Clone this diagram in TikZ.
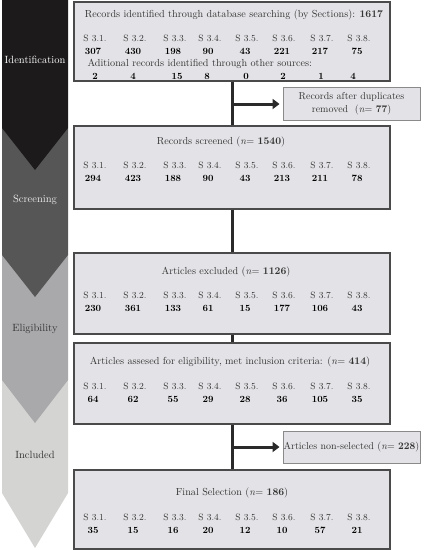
\documentclass[tikz,border=0pt]{standalone}
\usetikzlibrary{arrows.meta, positioning}
\definecolor{stageblack}{HTML}{1C1A1B}
\definecolor{stagedark}{HTML}{565656}
\definecolor{stagemid}{HTML}{A9A9AB}
\definecolor{stagelight}{HTML}{D4D4D2}
\definecolor{boxfill}{HTML}{E3E3E7}
\definecolor{boxline}{HTML}{4A4A4A}
\definecolor{sideline}{HTML}{8A8A8A}
\definecolor{trunk}{HTML}{2A2A2A}
\definecolor{labeltext}{HTML}{333333}
\tikzset{
  flowbox/.style={draw=boxline, line width=1.2pt, fill=boxfill, inner sep=0pt,
    minimum width=316pt},
  sidebox/.style={draw=sideline, line width=0.9pt, fill=boxfill, align=center,
    inner sep=0pt, minimum width=137pt, font=\fontsize{10}{13}\selectfont, text=labeltext},
  flowline/.style={line width=3pt, draw=trunk},
  flowarrow/.style={-{Triangle[length=7pt, width=10pt]}, line width=3pt, draw=trunk,
    shorten >=3pt},
  stagelabel/.style={font=\fontsize{10.5}{12}\selectfont},
  titletext/.style={font=\fontsize{10.2}{12}\selectfont, anchor=base, text=labeltext},
  sectext/.style={font=\fontsize{9.2}{10}\selectfont, anchor=base, text=labeltext},
  numtext/.style={font=\fontsize{9.5}{10}\selectfont\bfseries, anchor=base},
}
% one row of section labels with the counts below them
\newcommand{\secrow}[3]{%
  \foreach \cx [count=\ci] in {95,135,175,210,247,284,322,359}
    \node[sectext] (#1-s\ci) at (\cx,#2) {S 3.\ci.};
  \foreach \nv [count=\ci] in {#3}
    \node[numtext] (#1-n\ci) at ([xshift=-2pt,yshift=-12.5pt]#1-s\ci.base) {\nv};
}

\begin{document}
\begin{tikzpicture}[x=1pt, y=-1pt]
  \useasboundingbox (0,0) rectangle (432,550);

  % stage arrows on the left
  \fill[stagelight] (2,380) -- (68,380) -- (68,493) -- (35,548) -- (2,493) -- cycle;
  \fill[stagemid] (2,255) -- (68,255) -- (68,380) -- (35,423) -- (2,380) -- cycle;
  \fill[stagedark] (2,128) -- (68,128) -- (68,255) -- (35,297) -- (2,255) -- cycle;
  \fill[stageblack] (2,0) -- (68,0) -- (68,128) -- (35,170) -- (2,128) -- cycle;
  \node[stagelabel, text=white] (lblident) at (35,60) {Identification};
  \node[stagelabel, text=white!92!black] (lblscreen) at (35,200) {Screening};
  \node[stagelabel, text=labeltext] (lblelig) at (35,329) {Eligibility};
  \node[stagelabel, text=labeltext] (lblincl) at (35,455) {Included};

  % main boxes
  \node[flowbox, minimum height=79pt] (ident) at (232,41.5) {};
  \node[flowbox, minimum height=83pt] (screen) at (232,167.5) {};
  \node[flowbox, minimum height=81pt] (excl) at (232,293.5) {};
  \node[flowbox, minimum height=81pt] (assess) at (232,383.5) {};
  \node[flowbox, minimum height=79pt] (final) at (232,509.5) {};

  % side boxes
  \node[sidebox, minimum height=33pt] (dup) at (351.5,104) {Records after duplicates\\removed\ \ (\textit{n}= \textbf{77})};
  \node[sidebox, minimum height=32pt] (nonsel) at (351.5,447) {Articles non-selected (\textit{n}= \textbf{228})};

  % connectors
  \coordinate (br1) at (232,104);
  \coordinate (br2) at (232,447);
  \draw[flowline] (ident.south) -- (screen.north);
  \draw[flowline] (screen.south) -- (excl.north);
  \draw[flowline] (excl.south) -- (assess.north);
  \draw[flowline] (assess.south) -- (final.north);
  \draw[flowarrow] (br1) -- (dup.west);
  \draw[flowarrow] (br2) -- (nonsel.west);

  % box contents
  \node[titletext] (identtitle) at (234,17.5) {Records identified through database searching (by Sections): \textbf{1617}};
  \secrow{id}{41.5}{307,430,198,90,43,221,217,75}
  \node[titletext, anchor=base west] (addtitle) at (84,66.5) {Aditional records identified through other sources:};
  \foreach \nv/\nx [count=\ci] in {2/95,4/133,15/177,8/207,0/246,2/283,1/321,4/353}
    \node[numtext] (add-n\ci) at (\nx,79.5) {\nv};

  \node[titletext] (screentitle) at (221,144.5) {Records screened (\textit{n}= \textbf{1540})};
  \secrow{sc}{168.5}{294,423,188,90,43,213,211,78}

  \node[titletext] (excltitle) at (226,274.5) {Articles excluded (\textit{n}= \textbf{1126})};
  \secrow{ex}{298.5}{230,361,133,61,15,177,106,43}

  \node[titletext] (assesstitle) at (230,364.5) {Articles assesed for eligibility, met inclusion criteria: (\textit{n}= \textbf{414})};
  \secrow{as}{389.5}{64,62,55,29,28,36,105,35}

  \node[titletext] (finaltitle) at (232,495.5) {Final Selection (\textit{n}= \textbf{186})};
  \secrow{fi}{520.5}{35,15,16,20,12,10,57,21}
\end{tikzpicture}
\end{document}
